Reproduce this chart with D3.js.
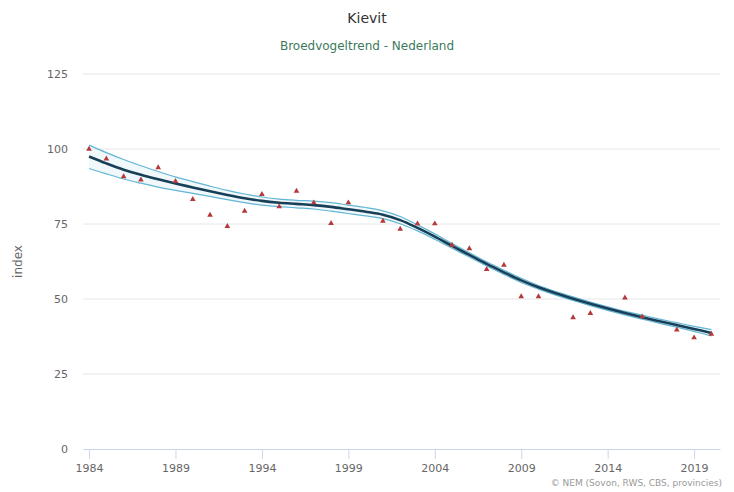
<!DOCTYPE html>
<html><head><meta charset="utf-8">
<script src="https://cdn.jsdelivr.net/npm/d3@7"></script>
<style>body{margin:0;background:#fff;}svg{display:block;font-family:"Lucida Grande","DejaVu Sans",Arial,sans-serif;}</style>
</head><body>
<svg id="c" width="734" height="492"></svg>
<script>
const years = d3.range(1984, 2021);
const indexValues = [100,96.7,90.8,89.7,93.8,89.2,83.2,78,74.2,79.3,84.9,80.8,86,82.1,75.2,82.1,null,76,73.3,75.1,75.1,68,66.8,59.9,61.3,50.8,50.8,null,43.8,45.2,null,50.4,44.1,null,39.7,37.1,38.3];
const trend =  [97.5,95.2,93.1,91.4,89.9,88.5,87.2,85.9,84.7,83.6,82.7,82.1,81.7,81.3,80.7,79.9,79.1,78.1,76.3,73.7,70.8,67.7,64.7,61.7,58.9,56.2,53.9,51.9,50.1,48.4,46.8,45.3,43.9,42.6,41.3,40,38.7];
const upper =  [101.3,98.8,96.5,94.4,92.5,90.7,89.1,87.6,86.2,85,84,83.3,82.9,82.6,82.1,81.3,80.5,79.4,77.5,74.7,71.7,68.5,65.4,62.4,59.6,56.9,54.5,52.5,50.7,49,47.4,45.9,44.6,43.3,42.1,40.9,39.8];
const lower =  [93.5,91.7,90,88.6,87.3,86.2,85.2,84.2,83.1,82.1,81.3,80.8,80.4,80,79.3,78.5,77.7,76.8,75.1,72.7,69.9,66.9,64,61,58.2,55.5,53.3,51.3,49.5,47.8,46.2,44.7,43.3,41.9,40.6,39.2,37.7];
const yTicks = [0,25,50,75,100,125];
const xTicks = [1984,1989,1994,1999,2004,2009,2014,2019];
const title = "Kievit";
const subtitle = "Broedvogeltrend - Nederland";
const yTitle = "index";
const credit = "© NEM (Sovon, RWS, CBS, provincies)";

const svg = d3.select("#c");
const plotL = 83, plotR = 720, plotT = 74, plotB = 449;
const x = d3.scaleLinear().domain([1983.65, 2020.5]).range([plotL, plotR]);
const y = d3.scaleLinear().domain([0,125]).range([plotB, plotT]);

svg.append("text").attr("x",367).attr("y",23).attr("text-anchor","middle")
  .attr("font-size",14).attr("fill","#333").text(title);
svg.append("text").attr("x",367).attr("y",50).attr("text-anchor","middle")
  .attr("font-size",12).attr("fill","#3a7a5c").text(subtitle);

// grid
svg.append("g").selectAll("line").data(yTicks.filter(d=>d>0)).join("line")
  .attr("x1",plotL).attr("x2",plotR).attr("y1",d=>y(d)).attr("y2",d=>y(d))
  .attr("stroke","#e6e6e6").attr("stroke-width",1);
svg.append("g").selectAll("text").data(yTicks).join("text")
  .attr("x",68).attr("y",d=>y(d)+4).attr("text-anchor","end")
  .attr("font-size",11).attr("fill","#666").text(d=>d);
svg.append("text").attr("transform","translate(22,"+((plotT+plotB)/2)+") rotate(-90)")
  .attr("text-anchor","middle").attr("font-size",12).attr("fill","#666").text(yTitle);

// x axis
const xAxis = d3.axisBottom(x).tickValues(xTicks).tickFormat(d3.format("d")).tickSize(10).tickSizeOuter(0);
const gx = svg.append("g").attr("transform","translate(0,"+plotB+")").call(xAxis);
gx.select(".domain").attr("stroke","#ccd6eb");
gx.selectAll(".tick line").attr("stroke","#ccd6eb");
gx.selectAll(".tick text").attr("font-size",11).attr("fill","#666").attr("dy","0.9em")
  .attr("font-family","'Lucida Grande','DejaVu Sans',Arial,sans-serif");

// band
const band = years.map((yr,i)=>({yr, lo:lower[i], hi:upper[i], t:trend[i]}));
const curve = d3.curveCatmullRom.alpha(0.5);
svg.append("path").datum(band)
  .attr("d", d3.area().x(d=>x(d.yr)).y0(d=>y(d.lo)).y1(d=>y(d.hi)).curve(curve))
  .attr("fill","#e3f2f8").attr("opacity",0.5);
const line = key => d3.line().x(d=>x(d.yr)).y(d=>y(d[key])).curve(curve);
svg.append("path").datum(band).attr("d",line("hi")).attr("fill","none").attr("stroke","#62b6d4").attr("stroke-width",1.2);
svg.append("path").datum(band).attr("d",line("lo")).attr("fill","none").attr("stroke","#62b6d4").attr("stroke-width",1.2);
svg.append("path").datum(band).attr("d",line("t")).attr("fill","none").attr("stroke","#173f58").attr("stroke-width",2.6);

// points
const pts = years.map((yr,i)=>({yr, v:indexValues[i]})).filter(d=>d.v!=null);
svg.append("g").selectAll("path").data(pts).join("path")
  .attr("transform",d=>"translate("+x(d.yr)+","+y(d.v)+")")
  .attr("d", d3.symbol().type(d3.symbolTriangle).size(14))
  .attr("fill","#b5383a");

svg.append("text").attr("x",722).attr("y",486).attr("text-anchor","end")
  .attr("font-size",9).attr("fill","#999").text(credit);
</script>
</body></html>
